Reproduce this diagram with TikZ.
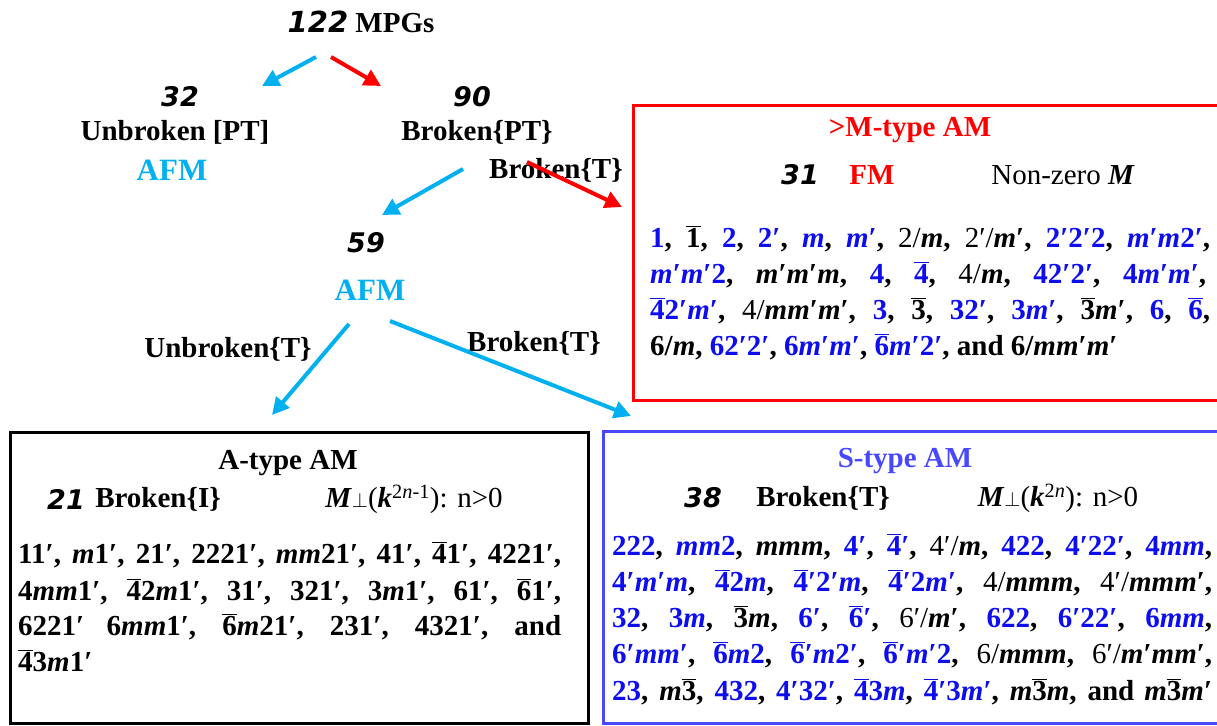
\documentclass[tikz,border=0pt]{standalone}
\usepackage{fontspec}
\setmainfont{Liberation Serif}
\newfontfamily\numfont{DejaVu Sans}
\usetikzlibrary{arrows.meta}
\definecolor{tcyan}{HTML}{00B0F0}
\definecolor{tred}{HTML}{FF0000}
\definecolor{tblue}{HTML}{0D0DEE}
\definecolor{sblue}{HTML}{4848FF}
\newcommand\bl[1]{\textcolor{tblue}{#1}}
\newcommand\mm{\textit{m}}
\newcommand\ob[1]{$\overline{\mbox{#1}}$}
\newcommand\pr{′}
\tikzset{
  txt/.style={inner sep=0pt, font=\fontsize{29}{35}\selectfont\bfseries},
  plain/.style={inner sep=0pt, font=\fontsize{29}{35}\selectfont},
  num/.style={inner sep=0pt, font=\fontsize{27}{32}\selectfont\numfont\bfseries\itshape},
  row/.style={inner sep=0pt, anchor=base west, font=\fontsize{29}{35}\selectfont\bfseries},
  conn/.style={line width=4pt, -{Triangle[length=17pt,width=17pt]}},
  boxline/.style={line width=3pt},
}
\begin{document}
\begin{tikzpicture}[x=1pt,y=-1pt]
\useasboundingbox (0,0) rectangle (1217,725);

% top tree
\node[txt] (top) at (361,22) {{\numfont\itshape 122} MPGs};
\node[num] (n32) at (180,97) {32};
\node[txt] (ubpt) at (175,132) {Unbroken [PT]};
\node[txt, text=tcyan, font=\fontsize{31}{35}\selectfont\bfseries] (afm1) at (172,170) {AFM};
\node[num] (n90) at (472,97) {90};
\node[txt] (bpt) at (477,132) {Broken\{PT\}};
\node[txt] (bt1) at (556,170) {Broken\{T\}};
\node[num] (n59) at (366,243) {59};
\node[txt, text=tcyan, font=\fontsize{31}{35}\selectfont\bfseries] (afm2) at (370,290) {AFM};
\node[txt] (ubt) at (228,349) {Unbroken\{T\}};
\node[txt] (bt2) at (534,343) {Broken\{T\}};

% boxes
\draw[boxline, tred] (633,105) rectangle (1225,400);
\draw[boxline, black] (10,432) rectangle (588,723);
\draw[boxline, sblue] (603,431) rectangle (1225,723);

\coordinate (a1s) at (316,57); \coordinate (a1e) at (262,86);
\coordinate (a2s) at (331,57); \coordinate (a2e) at (381,86);
\coordinate (a3s) at (463,169); \coordinate (a3e) at (382,215);
\coordinate (a4s) at (527,162); \coordinate (a4e) at (622,207);
\coordinate (a5s) at (349,324); \coordinate (a5e) at (272,415);
\coordinate (a6s) at (390,321); \coordinate (a6e) at (631,416);

\draw[conn, tcyan] (a1s) -- (a1e);
\draw[conn, tred] (a2s) -- (a2e);
\draw[conn, tcyan] (a3s) -- (a3e);
\draw[conn, tred] (a4s) -- (a4e);
\draw[conn, tcyan] (a5s) -- (a5e);
\draw[conn, tcyan] (a6s) -- (a6e);

% red box
\node[txt, text=tred] (mtype) at (910,130) {\textgreater M-type AM};
\node[num] (n31) at (800,175) {31};
\node[txt, text=tred] (fm) at (872,175) {FM};
\node[plain] (nzm) at (1063,175) {Non-zero \textbf{\textit{M}}};
\node[row] (r1) at (650,247) {\makebox[560pt][s]{\bl{1}, \ob{1}, \bl{2}, \bl{2\pr}, \bl{\mm}, \bl{\mm\pr}, \textmd{2/}\mm, \textmd{2\pr/}\mm\pr, \bl{2\pr2\pr2}, \bl{\mm\pr\mm2\pr},}};
\node[row] (r2) at (650,283) {\makebox[556pt][s]{\bl{\mm\pr\mm\pr2}, \mm\pr\mm\pr\mm, \bl{4}, \bl{\ob{4}}, \textmd{4/}\mm, \bl{42\pr2\pr}, \bl{4\mm\pr\mm\pr},}};
\node[row] (r3) at (650,319) {\makebox[560pt][s]{\bl{\ob{4}2\pr\mm\pr}, \textmd{4/}\mm\mm\pr\mm\pr, \bl{3}, \ob{3}, \bl{32\pr}, \bl{3\mm\pr}, \ob{3}\mm\pr, \bl{6}, \bl{\ob{6}},}};
\node[row] (r4) at (650,355) {6/\mm, \bl{62\pr2\pr}, \bl{6\mm\pr\mm\pr}, \bl{\ob{6}\mm\pr2\pr}, and 6/\mm\mm\pr\mm\pr};

% black box
\node[txt] (atype) at (288,463) {A-type AM};
\node[num] (n21) at (66,499) {21};
\node[txt] (bi) at (158,499) {Broken\{I\}};
\node[plain] (mperp1) at (414,499) {\textbf{\textit{M}}{\fontsize{20}{20}\selectfont$\perp$}(\textbf{\textit{k}}\textsuperscript{2\textit{n}-1}): n>0};
\node[row] (b1) at (18,563) {\makebox[543pt][s]{11\pr, \mm1\pr, 21\pr, 2221\pr, \mm\mm21\pr, 41\pr, \ob{4}1\pr, 4221\pr,}};
\node[row] (b2) at (18,600) {\makebox[543pt][s]{4\mm\mm1\pr, \ob{4}2\mm1\pr, 31\pr, 321\pr, 3\mm1\pr, 61\pr, \ob{6}1\pr,}};
\node[row] (b3) at (18,635) {\makebox[543pt][s]{6221\pr{} 6\mm\mm1\pr, \ob{6}\mm21\pr, 231\pr, 4321\pr, and}};
\node[row] (b4) at (18,671) {\ob{4}3\mm1\pr};

% blue box
\node[txt, text=sblue] (stype) at (905,461) {S-type AM};
\node[num] (n38) at (703,498) {38};
\node[txt] (bt3) at (823,498) {Broken\{T\}};
\node[plain] (mperp2) at (1058,498) {\textbf{\textit{M}}{\fontsize{20}{20}\selectfont$\perp$}(\textbf{\textit{k}}\textsuperscript{2\textit{n}}): n>0};
\node[row] (s1) at (612,555) {\makebox[600pt][s]{\bl{222}, \bl{\mm\mm2}, \mm\mm\mm, \bl{4\pr}, \bl{\ob{4}\pr}, \textmd{4\pr/}\mm, \bl{422}, \bl{4\pr22\pr}, \bl{4\mm\mm},}};
\node[row] (s2) at (612,591) {\makebox[600pt][s]{\bl{4\pr\mm\pr\mm}, \bl{\ob{4}2\mm}, \bl{\ob{4}\pr2\pr\mm}, \bl{\ob{4}\pr2\mm\pr}, \textmd{4/}\mm\mm\mm, \textmd{4\pr/}\mm\mm\mm\pr,}};
\node[row] (s3) at (612,627) {\makebox[600pt][s]{\bl{32}, \bl{3\mm}, \ob{3}\mm, \bl{6\pr}, \bl{\ob{6}\pr}, \textmd{6\pr/}\mm\pr, \bl{622}, \bl{6\pr22\pr}, \bl{6\mm\mm},}};
\node[row] (s4) at (612,663) {\makebox[600pt][s]{\bl{6\pr\mm\mm\pr}, \bl{\ob{6}\mm2}, \bl{\ob{6}\pr\mm2\pr}, \bl{\ob{6}\pr\mm\pr2}, \textmd{6/}\mm\mm\mm, \textmd{6\pr/}\mm\pr\mm\mm\pr,}};
\node[row] (s5) at (612,700) {\makebox[600pt][s]{\bl{23}, \mm\ob{3}, \bl{432}, \bl{4\pr32\pr}, \bl{\ob{4}3\mm}, \bl{\ob{4}\pr3\mm\pr}, \mm\ob{3}\mm, and \mm\ob{3}\mm\pr}};
\end{tikzpicture}
\end{document}
